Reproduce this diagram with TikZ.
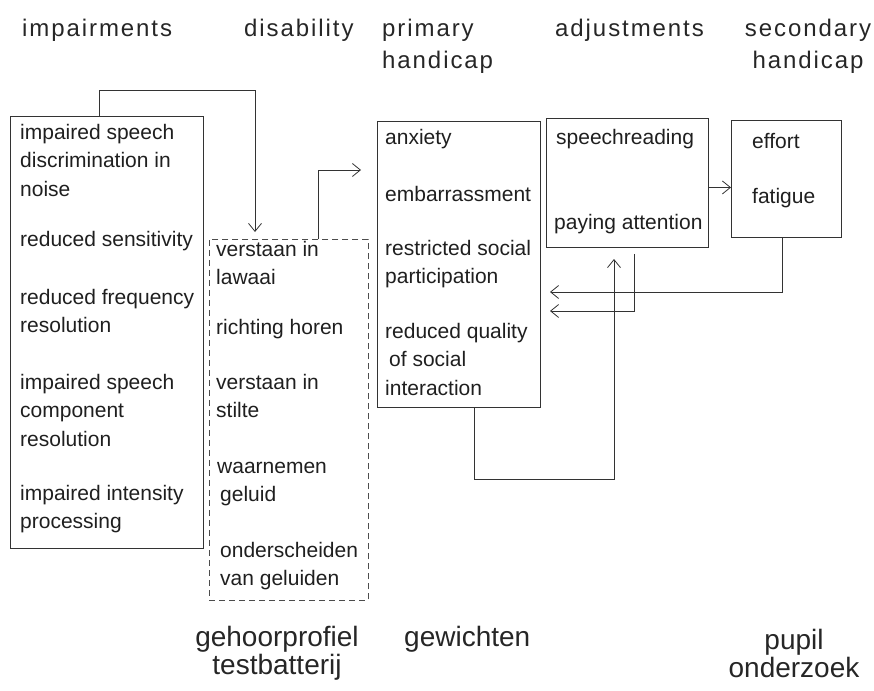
\documentclass[tikz,border=0pt]{standalone}
\usepackage{fontspec}
\setmainfont{Liberation Sans}
\newfontfamily\hdfam[LetterSpace=8]{Liberation Sans}
\newcommand{\hdfont}{\hdfam\fontsize{24}{31.5}\selectfont}
\newcommand{\lns}[2][l]{\begin{tabular}[t]{@{}#1@{}}#2\end{tabular}}
\usetikzlibrary{positioning,arrows.meta}

\begin{document}
\begin{tikzpicture}[x=1pt,y=-1pt,>={Straight Barb[length=8pt,width=13pt]},
  bx/.style={draw=black!80, line width=0.9pt, rectangle, inner sep=0pt, anchor=north west},
  dbx/.style={bx, draw=black!70, dash pattern=on 6pt off 4pt},
  itm/.style={anchor=base west, inner sep=0pt, text=black!88, font=\fontsize{21}{28.5}\selectfont},
  hd/.style={anchor=base west, inner sep=0pt, text=black!85, font=\hdfont},
  ft/.style={anchor=base, inner sep=0pt, text=black!85, font=\fontsize{28}{28.5}\selectfont},
  cn/.style={draw=black!80, line width=0.8pt}]
  \useasboundingbox (0,0) rectangle (874,690);

  % Headings
  \node[hd] (himp) at (22,37) {impairments};
  \node[hd] (hdis) at (244,37) {disability};
  \node[hd] (hpri) at (382,37) {\lns{primary\\handicap}};
  \node[hd] (hadj) at (555,37) {adjustments};
  \node[hd, anchor=base] (hsec) at (808,37) {\lns[c]{secondary\\handicap}};

  % Blocks
  \node[bx, minimum width=193pt, minimum height=432pt] (imp) at (10,116) {};
  \node[dbx, minimum width=159pt, minimum height=361pt] (dis) at (209,239) {};
  \node[bx, minimum width=163pt, minimum height=286pt] (pri) at (377,121) {};
  \node[bx, minimum width=162pt, minimum height=129pt] (adj) at (546,118) {};
  \node[bx, minimum width=110pt, minimum height=117pt] (sec) at (731,120) {};

  % impairments
  \node[itm] (noise) at (20,139) {\lns{impaired speech\\discrimination in\\noise}};
  \node[itm] (sens) at (20,246) {reduced sensitivity};
  \node[itm] (freq) at (20,304) {\lns{reduced frequency\\resolution}};
  \node[itm] (comp) at (20,389) {\lns{impaired speech\\component\\resolution}};
  \node[itm] (inten) at (20,500) {\lns{impaired intensity\\processing}};

  % disability
  \node[itm] (lawaai) at (216,256) {\lns{verstaan in\\lawaai}};
  \node[itm] (richting) at (216,334) {richting horen};
  \node[itm] (stilte) at (216,389) {\lns{verstaan in\\stilte}};
  \node[itm] (waarn) at (217,473) {\lns{waarnemen\\\hspace{3pt}geluid}};
  \node[itm] (onders) at (220,557) {\lns{onderscheiden\\van geluiden}};

  % primary handicap
  \node[itm] (anx) at (385,144) {anxiety};
  \node[itm] (embar) at (385,201) {embarrassment};
  \node[itm] (partic) at (385,255) {\lns{restricted social\\participation}};
  \node[itm] (qual) at (385,338) {\lns{reduced quality\\\hspace{4pt}of social\\interaction}};

  % adjustments
  \node[itm] (speechr) at (556,144) {speechreading};
  \node[itm] (attent) at (554,229) {paying attention};

  % secondary handicap
  \node[itm] (effort) at (752,148) {effort};
  \node[itm] (fatigue) at (752,203) {fatigue};

  % Connections
  \coordinate (disin) at (255,232);
  \coordinate (priin) at (361,170);
  \coordinate (fbsec) at (550,292);
  \coordinate (fbadj) at (550,311);
  \coordinate (adjin) at (614,259);
  \draw[cn,->] ([xshift=-7.5pt]imp.north) -- ++(0,-26) -| (disin);
  \draw[cn,->] ([xshift=29.5pt]dis.north) |- (priin);
  \draw[cn,->] ([yshift=-4.5pt]adj.east) -- ([yshift=-8.5pt]sec.west);
  \draw[cn,->] ([xshift=-4pt]sec.south) |- (fbsec);
  \draw[cn,->] ([xshift=7pt,yshift=-6pt]adj.south) |- (fbadj);
  \draw[cn,->] ([xshift=15.5pt]pri.south) -- ++(0,71) -| (adjin);

  % Sources
  \node[ft] (fgeh) at (277,646) {\lns[c]{gehoorprofiel\\testbatterij}};
  \node[ft, anchor=base west] (fgew) at (404,646) {gewichten};
  \node[ft] (fpup) at (794,649) {\lns[c]{pupil\\onderzoek}};
\end{tikzpicture}
\end{document}
